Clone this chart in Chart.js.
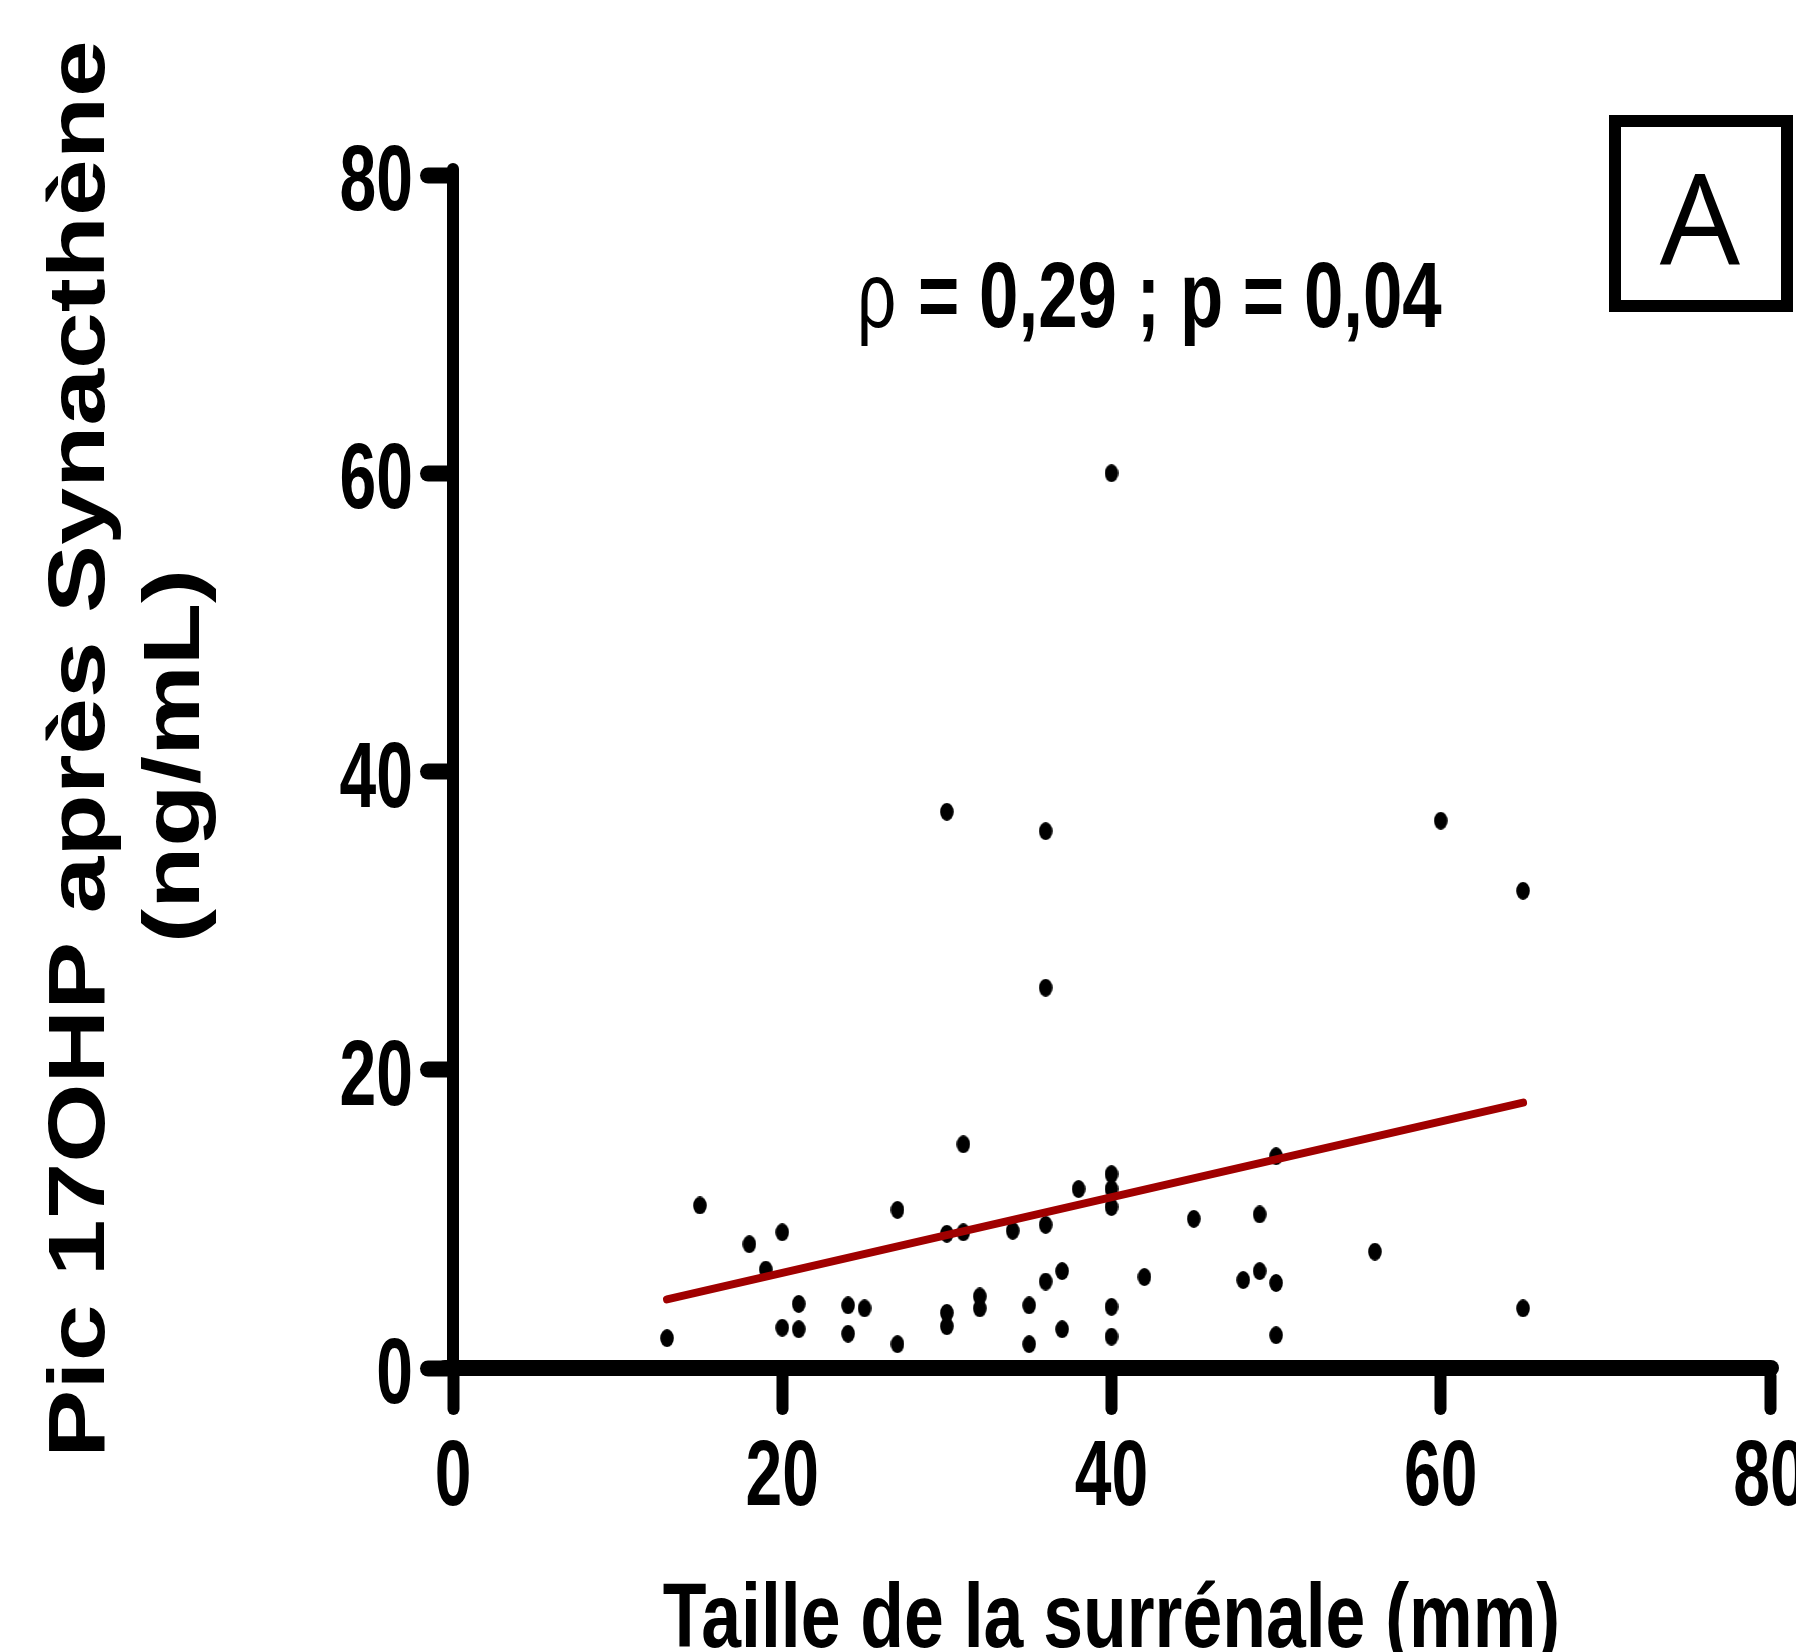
<!DOCTYPE html>
<html>
<head>
<meta charset="utf-8">
<script src="https://cdn.jsdelivr.net/npm/chart.js@4.4.1/dist/chart.umd.min.js"></script>
<style>
  html, body { margin: 0; padding: 0; background: #fff; }
  #wrap { width: 1796px; height: 1652px; }
</style>
</head>
<body>
<div id="wrap"><canvas id="chartSurrenale" width="1796" height="1652"></canvas></div>
<script>
// taille de la surrénale (mm) et pic de 17OHP (ng/mL), un point par patient
const tailleMm = [13, 15, 18, 19, 20, 20, 21, 21, 24, 24, 25, 27, 27, 30, 30, 30, 30, 31, 31, 32,
  32, 34, 35, 35, 36, 36, 36, 36, 37, 37, 38, 40, 40, 40, 40, 40, 40, 42, 45, 48,
  49, 49, 50, 50, 50, 56, 60, 65, 65];
const pic17ohp = [2.0, 10.9, 8.3, 6.6, 9.1, 2.7, 4.3, 2.6, 4.2, 2.3, 4.0, 10.6, 1.6, 37.3, 9.0, 3.7, 2.8, 9.1, 15.0, 4.8,
  4.0, 9.2, 4.2, 1.6, 36.0, 25.5, 9.6, 5.8, 6.5, 2.6, 12.0, 60.0, 13.0, 12.0, 10.8, 4.1, 2.1, 6.1, 10.0, 5.9,
  10.3, 6.5, 14.2, 5.7, 2.2, 7.8, 36.7, 32.0, 4.0];

// droite de régression (extrémités)
const regX = [13, 65];
const regY = [4.6, 17.8];

const xTicks = [0, 20, 40, 60, 80];
const yTicks = [0, 20, 40, 60, 80];

const titreX = 'Taille de la surrénale (mm)';
const titreY = ['Pic 17OHP après Synacthène', '(ng/mL)'];

const sans = '"Liberation Sans", Arial, sans-serif';

// petit point ovale comme dans la figure
const dot = document.createElement('canvas');
dot.width = 14;
dot.height = 18;
const dctx = dot.getContext('2d');
dctx.fillStyle = '#000';
dctx.beginPath();
dctx.ellipse(7, 9, 6.8, 8.9, 0, 0, Math.PI * 2);
dctx.fill();

// texte étroit : police normale compressée horizontalement
function texte(ctx, str, x, y, font, sx, align, rot) {
  ctx.save();
  ctx.translate(x, y);
  if (rot) ctx.rotate(rot);
  ctx.scale(sx, 1);
  ctx.font = font;
  ctx.textAlign = align;
  ctx.textBaseline = 'alphabetic';
  ctx.fillStyle = '#000';
  ctx.fillText(str, 0, 0);
  ctx.restore();
}

const habillage = {
  id: 'habillage',
  beforeDraw(chart) {
    chart.ctx.lineCap = 'round';
  },
  afterDraw(chart) {
    const ctx = chart.ctx;
    const xs = chart.scales.x;
    const ys = chart.scales.y;

    // graduations
    xs.ticks.forEach(t => {
      texte(ctx, String(t.value), xs.getPixelForValue(t.value), 1505, 'bold 93px ' + sans, 0.71, 'center');
    });
    ys.ticks.forEach(t => {
      texte(ctx, String(t.value), 413, ys.getPixelForValue(t.value) + 35, 'bold 93px ' + sans, 0.71, 'right');
    });

    // titres des axes
    texte(ctx, titreX, (chart.chartArea.left + chart.chartArea.right) / 2, 1647, 'bold 90px ' + sans, 0.795, 'center');
    texte(ctx, titreY[0], 104, 749, 'bold 80px ' + sans, 1.275, 'center', -Math.PI / 2);
    texte(ctx, titreY[1], 199, 756, 'bold 80px ' + sans, 1.275, 'center', -Math.PI / 2);

    // corrélation
    texte(ctx, 'ρ', 857, 327, '92px ' + sans, 0.75, 'left');
    texte(ctx, '= 0,29 ; p = 0,04', 918, 327, 'bold 92px ' + sans, 0.77, 'left');

    // encadré A
    ctx.save();
    ctx.lineCap = 'butt';
    ctx.lineJoin = 'miter';
    ctx.lineWidth = 12;
    ctx.strokeStyle = '#000';
    ctx.strokeRect(1615, 121, 172, 185);
    ctx.restore();
    texte(ctx, 'A', 1700, 265, '127px "Open Sans", sans-serif', 1, 'center');
  }
};

const ctx = document.getElementById('chartSurrenale').getContext('2d');

new Chart(ctx, {
  type: 'scatter',
  data: {
    datasets: [
      {
        type: 'line',
        data: regX.map((x, i) => ({ x: x, y: regY[i] })),
        borderColor: '#a00000',
        borderWidth: 8,
        borderCapStyle: 'round',
        pointRadius: 0,
        fill: false,
        order: 0
      },
      {
        data: tailleMm.map((x, i) => ({ x: x, y: pic17ohp[i] })),
        pointStyle: dot,
        pointRadius: 7,
        backgroundColor: '#000',
        order: 1
      }
    ]
  },
  options: {
    responsive: false,
    animation: false,
    devicePixelRatio: 1,
    layout: { padding: { left: 0, top: 175, right: 26, bottom: 0 } },
    plugins: {
      legend: { display: false },
      tooltip: { enabled: false }
    },
    scales: {
      x: {
        type: 'linear',
        position: 'bottom',
        min: 0,
        max: 80,
        afterBuildTicks: s => { s.ticks = xTicks.map(v => ({ value: v })); },
        afterFit: s => { s.height = 284; s.paddingLeft = 0; s.paddingRight = 0; },
        grid: { drawOnChartArea: false, drawTicks: true, tickLength: 41, tickWidth: 12, tickColor: '#000' },
        border: { display: true, color: '#000', width: 16 },
        ticks: { display: false }
      },
      y: {
        type: 'linear',
        min: 0,
        max: 80,
        afterBuildTicks: s => { s.ticks = yTicks.map(v => ({ value: v })); },
        afterFit: s => { s.width = 453; s.paddingTop = 0; s.paddingBottom = 0; },
        grid: { drawOnChartArea: false, drawTicks: true, tickLength: 25, tickWidth: 16, tickColor: '#000' },
        border: { display: true, color: '#000', width: 12 },
        ticks: { display: false }
      }
    }
  },
  plugins: [habillage]
});
</script>
</body>
</html>
